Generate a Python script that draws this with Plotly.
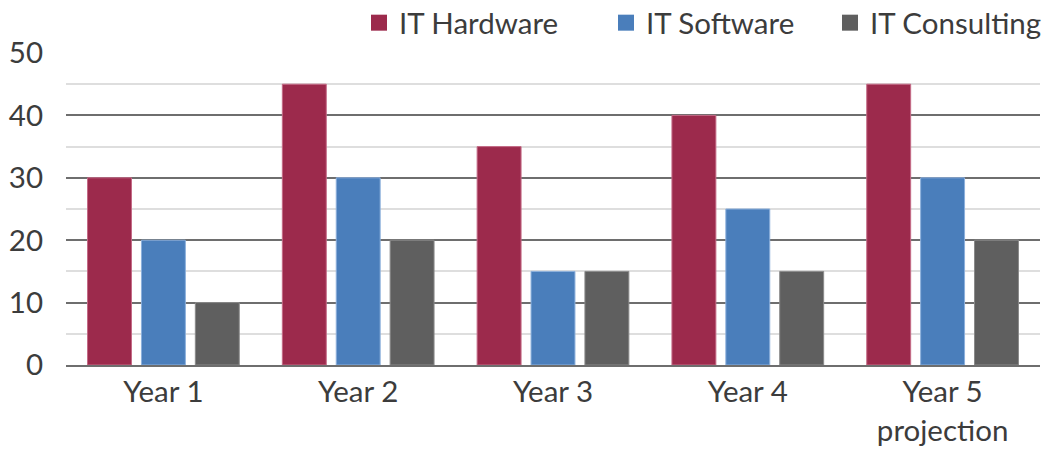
import plotly.graph_objects as go

categories = ["Year 1", "Year 2", "Year 3", "Year 4", "Year 5<br>projection"]
hardware = [30, 45, 35, 40, 45]
software = [20, 30, 15, 25, 30]
consulting = [10, 20, 15, 15, 20]
y_ticks = [0, 10, 20, 30, 40, 50]

series = [
    ("IT Hardware", hardware, "#9c2a4c", "#c46a86", "legend", 359),
    ("IT Software", software, "#4a7ebb", "#8cb0dc", "legend2", 606),
    ("IT Consulting", consulting, "#5f5f5f", "#8a8a8a", "legend3", 830),
]

fig = go.Figure()
for name, vals, color, edge, lg, lx in series:
    fig.add_trace(go.Bar(
        x=categories, y=vals, name=name, showlegend=False,
        marker=dict(color=color, line=dict(color=edge, width=1)),
    ))
# legend entries with larger square swatches
for name, vals, color, edge, lg, lx in series:
    fig.add_trace(go.Scatter(
        x=[None], y=[None], name=name, mode="markers", legend=lg,
        marker=dict(symbol="square", size=16, color=color),
    ))

font = "Lato, 'Open Sans', sans-serif"
legend_common = dict(orientation="h", xref="container", yref="container",
                     xanchor="left", y=1 - 23 / 455, yanchor="middle",
                     font=dict(size=29.5, color="#3c3c3c"), itemwidth=30,
                     bgcolor="rgba(0,0,0,0)")
legends = {}
for name, vals, color, edge, lg, lx in series:
    legends[lg] = dict(legend_common, x=lx / 1053)

fig.update_layout(
    width=1053, height=455,
    margin=dict(l=66, r=13, t=53, b=90, autoexpand=False),
    paper_bgcolor="white", plot_bgcolor="white",
    barmode="group", bargap=0.17, bargroupgap=0.185,
    font=dict(family=font, size=30, color="#3c3c3c"),
    showlegend=True,
    xaxis=dict(showgrid=False, showline=True, linecolor="#6e6e6e", linewidth=2,
               ticks="", tickfont=dict(size=29.5), automargin=False),
    yaxis=dict(range=[0, 50], tickvals=y_ticks, showline=False, zeroline=False,
               showgrid=True, gridcolor="#6e6e6e", gridwidth=2,
               minor=dict(dtick=5, showgrid=True, gridcolor="#dedede", gridwidth=2),
               ticks="", ticklabelstandoff=22, tickfont=dict(size=29.5),
               automargin=False),
    **legends,
)
fig.write_html("out.html", config={"displayModeBar": False},
               post_script="document.body.style.margin='0';")
